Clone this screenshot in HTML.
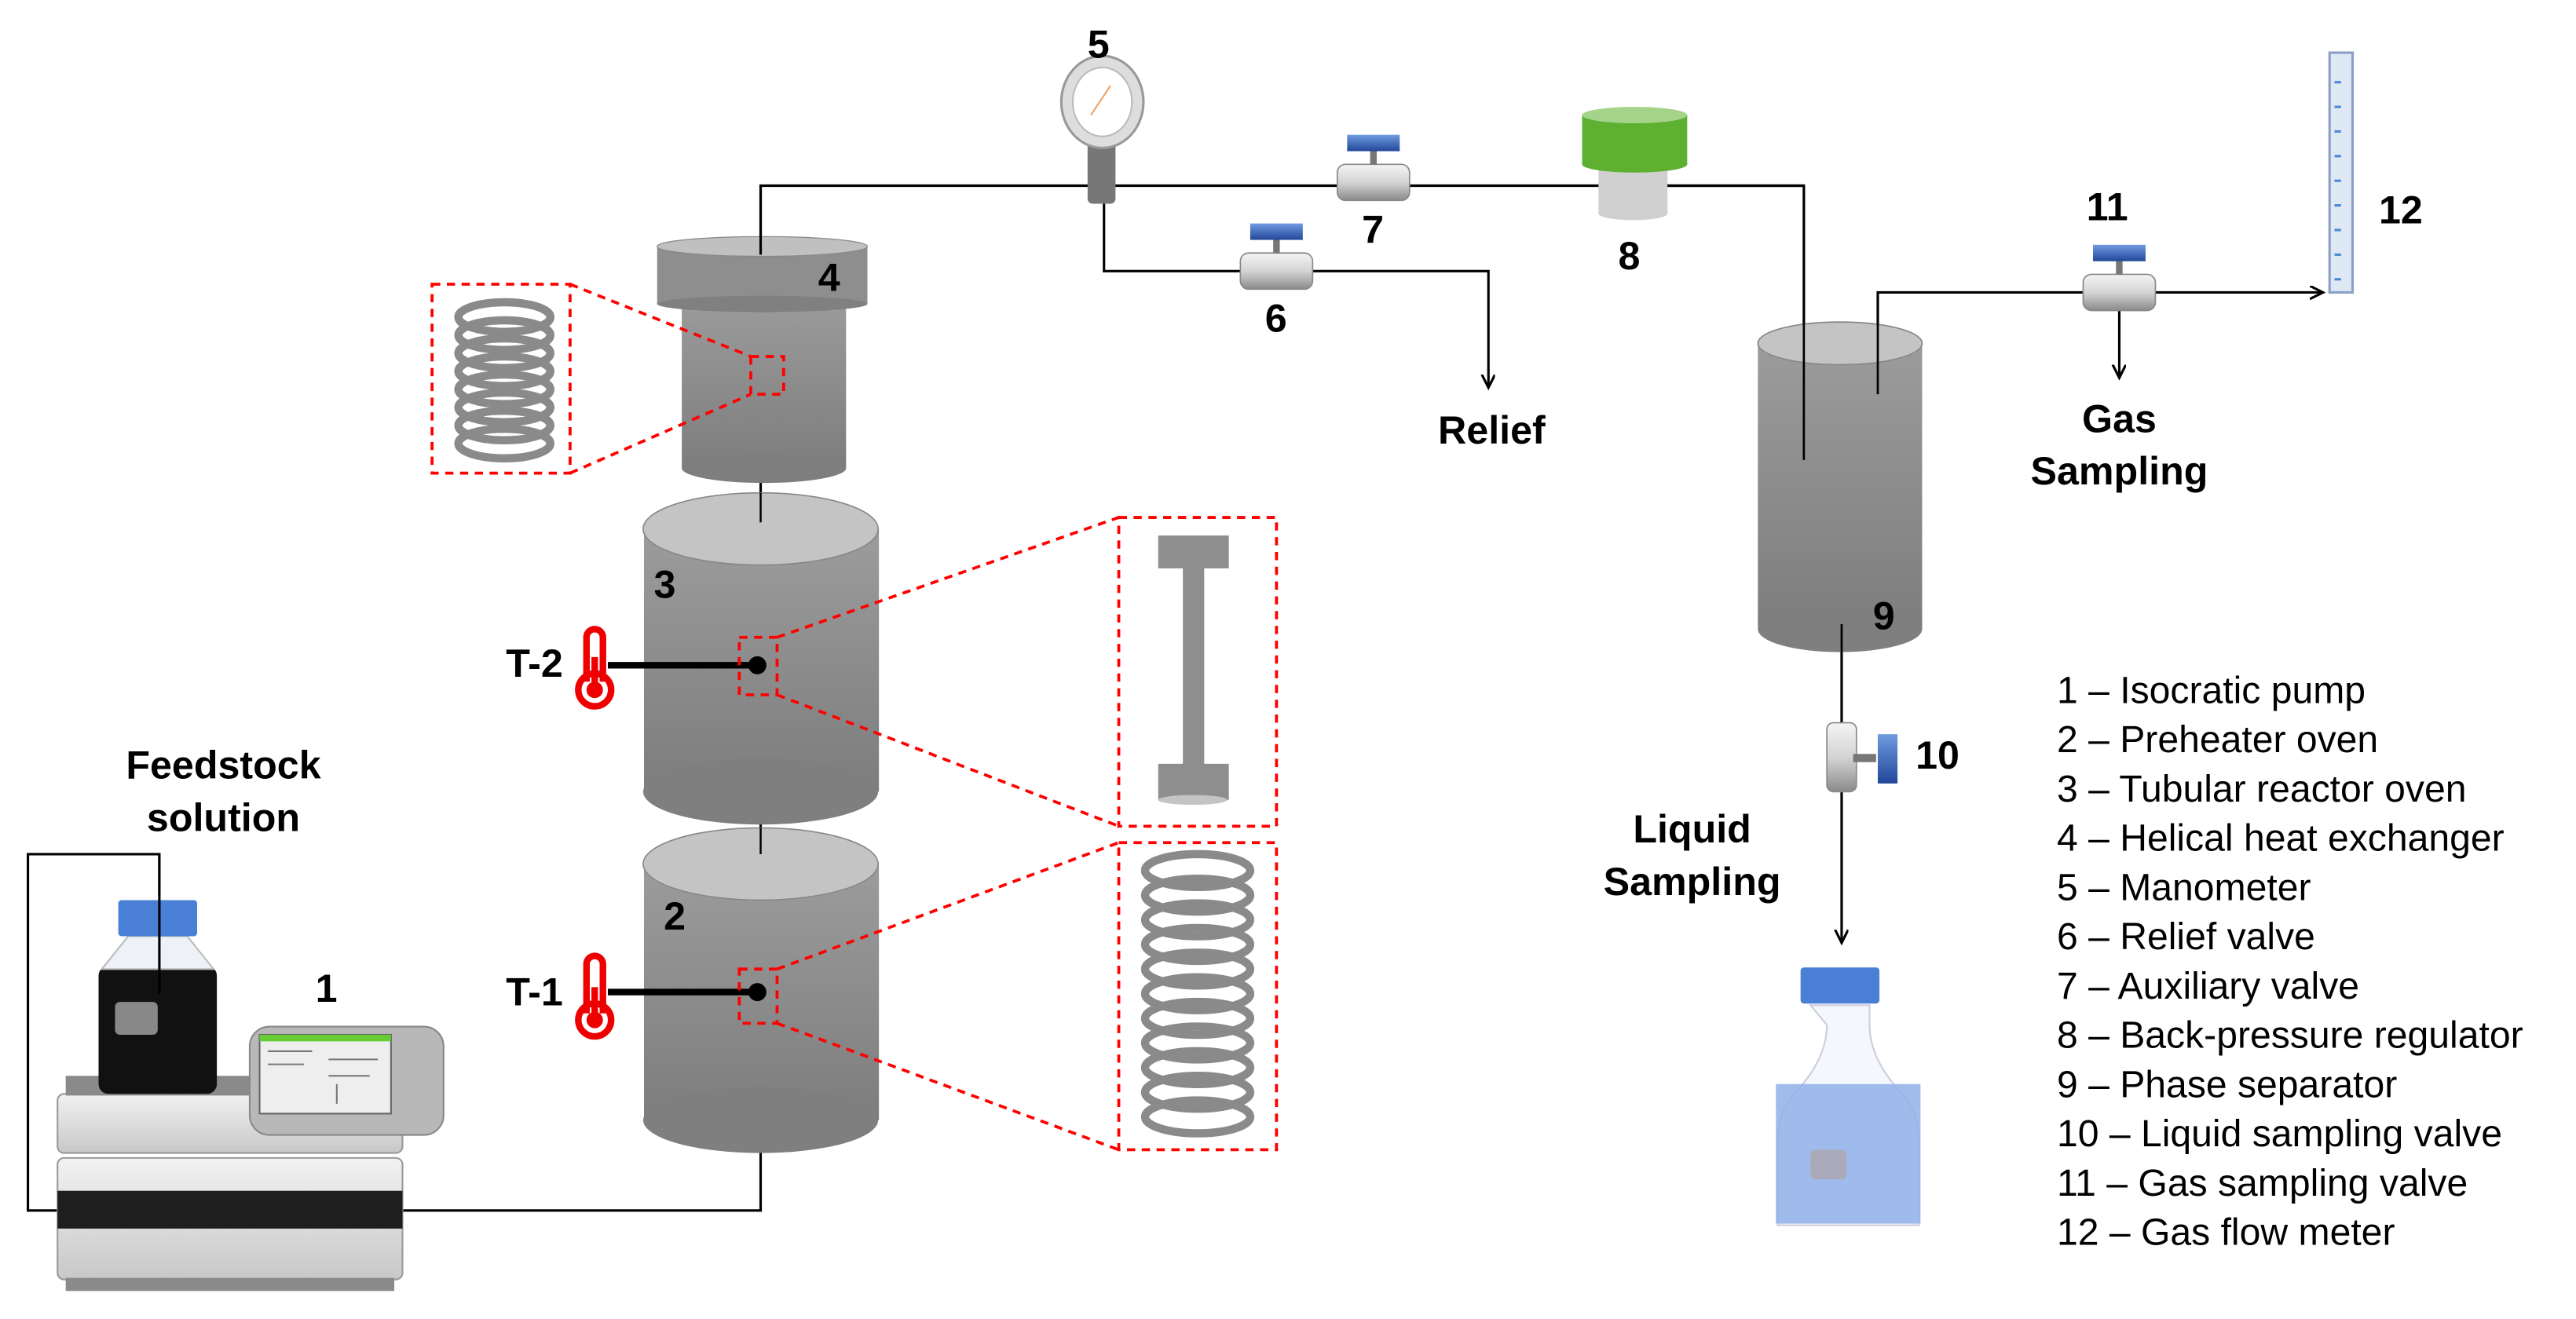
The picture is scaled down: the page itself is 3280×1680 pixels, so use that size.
<!DOCTYPE html>
<html><head><meta charset="utf-8"><style>
html,body{margin:0;padding:0;background:#fff;}
svg{display:block;}
text{font-family:"Liberation Sans",Arial,sans-serif;}
.b{font-weight:bold;font-size:24px;fill:#000;}
.lg{font-size:23px;fill:#000;}
</style></head><body>
<svg width="3280" height="1680" viewBox="0 0 1568 803" xmlns="http://www.w3.org/2000/svg">
<defs>
<linearGradient id="cyl" x1="0" y1="0" x2="0" y2="1"><stop offset="0" stop-color="#9c9c9c"/><stop offset="1" stop-color="#7d7d7d"/></linearGradient>
<linearGradient id="vb" x1="0" y1="0" x2="0" y2="1"><stop offset="0" stop-color="#f4f4f4"/><stop offset="0.5" stop-color="#d4d4d4"/><stop offset="1" stop-color="#8a8a8a"/></linearGradient>
<linearGradient id="blu" x1="0" y1="0" x2="0" y2="1"><stop offset="0" stop-color="#6f9be0"/><stop offset="1" stop-color="#22479a"/></linearGradient>
<linearGradient id="pump" x1="0" y1="0" x2="0" y2="1"><stop offset="0" stop-color="#f2f2f2"/><stop offset="1" stop-color="#c8c8c8"/></linearGradient>
<marker id="ar" markerWidth="10" markerHeight="10" refX="8" refY="4" orient="auto" markerUnits="userSpaceOnUse"><path d="M0,0 L8,4 L0,8" fill="none" stroke="#000" stroke-width="1.5"/></marker>
<g id="valve">
<rect x="-22" y="-11" width="44" height="22" rx="5" fill="url(#vb)" stroke="#888" stroke-width="0.8"/>
<rect x="-2" y="-21" width="4" height="10" fill="#777"/>
<rect x="-16" y="-29" width="32" height="10" fill="url(#blu)"/>
</g>
</defs>

<!-- pipes -->
<g stroke="#000" stroke-width="1.5" fill="none">
<polyline points="463,155 463,113 1098,113 1098,280"/>
<polyline points="672,120 672,165 906,165 906,236" marker-end="url(#ar)"/>
<polyline points="1143,240 1143,178 1414,178" marker-end="url(#ar)"/>
<line x1="1290" y1="188" x2="1290" y2="230" marker-end="url(#ar)"/>
<line x1="1121" y1="390" x2="1121" y2="574" marker-end="url(#ar)"/>
<line x1="463" y1="290" x2="463" y2="318"/>
<line x1="463" y1="500" x2="463" y2="525"/>
<polyline points="463,700 463,737 245,737"/>
<polyline points="97,545 97,520 17,520 17,737 35,737"/>
</g>

<!-- cylinder 4 -->
<rect x="415" y="180" width="100" height="105" fill="url(#cyl)"/>
<ellipse cx="465" cy="285" rx="50" ry="9" fill="#7e7e7e"/>
<rect x="400" y="150" width="128" height="35" fill="#8e8e8e"/>
<ellipse cx="464" cy="185" rx="64" ry="5" fill="#808080"/>
<ellipse cx="464" cy="150" rx="64" ry="6" fill="#c0c0c0" stroke="#888" stroke-width="0.6"/>
<line x1="463" y1="113" x2="463" y2="155" stroke="#000" stroke-width="1.5"/>
<text class="b" x="498" y="177">4</text>

<!-- cylinder 3 -->
<rect x="392" y="322" width="143" height="160" fill="url(#cyl)"/>
<ellipse cx="463" cy="482" rx="71.5" ry="20" fill="#7f7f7f"/>
<ellipse cx="463" cy="322" rx="71.5" ry="22" fill="#c4c4c4" stroke="#888" stroke-width="0.8"/>
<line x1="463" y1="300" x2="463" y2="318" stroke="#000" stroke-width="1.2"/>
<text class="b" x="398" y="364">3</text>

<!-- cylinder 2 -->
<rect x="392" y="525" width="143" height="157" fill="url(#cyl)"/>
<ellipse cx="463" cy="682" rx="71.5" ry="20" fill="#7f7f7f"/>
<ellipse cx="463" cy="526" rx="71.5" ry="22" fill="#c4c4c4" stroke="#888" stroke-width="0.8"/>
<line x1="463" y1="504" x2="463" y2="520" stroke="#000" stroke-width="1.2"/>
<text class="b" x="404" y="566">2</text>

<!-- thermometers -->
<g fill="none" stroke="#e00" stroke-width="4">
<path d="M357,415 V388 a5,5 0 0 1 10,0 V415"/><circle cx="362" cy="420" r="10"/>
<path d="M357,617 V587 a5,5 0 0 1 10,0 V617"/><circle cx="362" cy="621" r="10"/>
</g>
<circle cx="362" cy="420" r="5" fill="#e00"/><rect x="360" y="400" width="4" height="16" fill="#e00"/>
<circle cx="362" cy="621" r="5" fill="#e00"/><rect x="360" y="601" width="4" height="16" fill="#e00"/>
<line x1="370" y1="405" x2="460" y2="405" stroke="#000" stroke-width="4"/><circle cx="461" cy="405" r="5.5" fill="#000"/>
<line x1="370" y1="604" x2="460" y2="604" stroke="#000" stroke-width="4"/><circle cx="461" cy="604" r="5.5" fill="#000"/>
<text class="b" x="308" y="412">T-2</text>
<text class="b" x="308" y="612">T-1</text>

<!-- dashed zoom boxes -->
<g fill="none" stroke="#f00" stroke-width="1.8" stroke-dasharray="5,4">
<rect x="457" y="217" width="20" height="23"/>
<rect x="263" y="173" width="84" height="115"/>
<line x1="347" y1="173" x2="457" y2="217"/><line x1="347" y1="288" x2="457" y2="240"/>
<rect x="450" y="388" width="23" height="35"/>
<rect x="681" y="315" width="96" height="188"/>
<line x1="473" y1="388" x2="681" y2="315"/><line x1="473" y1="423" x2="681" y2="503"/>
<rect x="450" y="590" width="23" height="33"/>
<rect x="681" y="513" width="96" height="187"/>
<line x1="473" y1="590" x2="681" y2="513"/><line x1="473" y1="623" x2="681" y2="700"/>
</g>
<!-- coil 4 -->
<g stroke="#8a8a8a" stroke-width="5" fill="none">
<ellipse cx="307" cy="193" rx="28" ry="9"/><ellipse cx="307" cy="204" rx="28" ry="9"/><ellipse cx="307" cy="215" rx="28" ry="9"/><ellipse cx="307" cy="226" rx="28" ry="9"/><ellipse cx="307" cy="237" rx="28" ry="9"/><ellipse cx="307" cy="248" rx="28" ry="9"/><ellipse cx="307" cy="259" rx="28" ry="9"/><ellipse cx="307" cy="270" rx="28" ry="9"/>
</g>
<!-- I beam -->
<rect x="705" y="326" width="43" height="20" fill="#8e8e8e"/><rect x="720" y="340" width="13" height="130" fill="#8e8e8e"/><rect x="705" y="465" width="43" height="22" fill="#8e8e8e"/><ellipse cx="726" cy="487" rx="21" ry="3" fill="#c4c4c4"/>
<!-- coil 2 -->
<g stroke="#8a8a8a" stroke-width="5" fill="none">
<ellipse cx="729" cy="530" rx="32" ry="10"/><ellipse cx="729" cy="545" rx="32" ry="10"/><ellipse cx="729" cy="560" rx="32" ry="10"/><ellipse cx="729" cy="575" rx="32" ry="10"/><ellipse cx="729" cy="590" rx="32" ry="10"/><ellipse cx="729" cy="605" rx="32" ry="10"/><ellipse cx="729" cy="620" rx="32" ry="10"/><ellipse cx="729" cy="635" rx="32" ry="10"/><ellipse cx="729" cy="650" rx="32" ry="10"/><ellipse cx="729" cy="665" rx="32" ry="10"/><ellipse cx="729" cy="680" rx="32" ry="10"/>
</g>

<!-- manometer -->
<rect x="662" y="78" width="17" height="46" rx="3" fill="#777"/>
<ellipse cx="671" cy="62" rx="25" ry="28" fill="#ddd" stroke="#999" stroke-width="1.5"/>
<ellipse cx="671" cy="62" rx="18" ry="21" fill="#fff" stroke="#bbb"/>
<line x1="664" y1="70" x2="676" y2="52" stroke="#f0a060" stroke-width="1"/>
<text class="b" x="662" y="35">5</text>

<!-- valves -->
<use href="#valve" x="836" y="111"/>
<use href="#valve" x="777" y="165"/>
<use href="#valve" x="1290" y="178"/>
<text class="b" x="829" y="148">7</text>
<text class="b" x="770" y="202">6</text>
<text class="b" x="1270" y="134">11</text>

<!-- BPR 8 -->
<rect x="973" y="96" width="42" height="34" fill="#d0d0d0"/>
<ellipse cx="994" cy="130" rx="21" ry="4" fill="#d0d0d0"/>
<rect x="963" y="70" width="64" height="30" fill="#5eb030"/>
<ellipse cx="995" cy="100" rx="32" ry="5" fill="#5eb030"/>
<ellipse cx="995" cy="70" rx="32" ry="5" fill="#a4d48a"/>
<text class="b" x="985" y="164">8</text>
<line x1="1015" y1="113" x2="1098" y2="113" stroke="#000" stroke-width="1.5"/>

<!-- separator 9 -->
<rect x="1070" y="208" width="100" height="175" fill="url(#cyl)"/>
<ellipse cx="1120" cy="383" rx="50" ry="14" fill="#7f7f7f"/>
<ellipse cx="1120" cy="209" rx="50" ry="13" fill="#c4c4c4" stroke="#888" stroke-width="0.8"/>
<line x1="1098" y1="113" x2="1098" y2="280" stroke="#000" stroke-width="1.3"/>
<line x1="1143" y1="178" x2="1143" y2="240" stroke="#000" stroke-width="1.3"/>
<line x1="1121" y1="380" x2="1121" y2="400" stroke="#000" stroke-width="1.3"/>
<text class="b" x="1140" y="383">9</text>

<!-- flow meter 12 -->
<rect x="1418" y="32" width="14" height="146" fill="#dfe8f5" stroke="#8aa0c8" stroke-width="1.5"/>
<g stroke="#4a8ad8" stroke-width="1.5"><line x1="1421" y1="50" x2="1425" y2="50"/><line x1="1421" y1="65" x2="1425" y2="65"/><line x1="1421" y1="80" x2="1425" y2="80"/><line x1="1421" y1="95" x2="1425" y2="95"/><line x1="1421" y1="110" x2="1425" y2="110"/><line x1="1421" y1="125" x2="1425" y2="125"/><line x1="1421" y1="140" x2="1425" y2="140"/><line x1="1421" y1="155" x2="1425" y2="155"/><line x1="1421" y1="170" x2="1425" y2="170"/></g>
<text class="b" x="1448" y="136">12</text>

<!-- valve 10 -->
<rect x="1112" y="440" width="18" height="42" rx="4" fill="url(#vb)" stroke="#888" stroke-width="0.8"/>
<rect x="1128" y="459" width="14" height="5" fill="#777"/>
<rect x="1143" y="447" width="12" height="30" fill="url(#blu)"/>
<text class="b" x="1166" y="468">10</text>

<text class="b" x="908" y="270" text-anchor="middle">Relief</text>
<text class="b" x="1290" y="263" text-anchor="middle">Gas</text>
<text class="b" x="1290" y="295" text-anchor="middle">Sampling</text>
<text class="b" x="1030" y="513" text-anchor="middle">Liquid</text>
<text class="b" x="1030" y="545" text-anchor="middle">Sampling</text>
<text class="b" x="136" y="474" text-anchor="middle">Feedstock</text>
<text class="b" x="136" y="506" text-anchor="middle">solution</text>
<text class="b" x="192" y="610">1</text>

<!-- blue bottle -->
<path d="M1102,612 h36 v12 q0,20 18,40 q12,12 12,30 v52 h-86 v-52 q0,-18 12,-30 q18,-20 18,-40 z" fill="#f4f7fb" stroke="#ccd" stroke-width="1"/>
<rect x="1081" y="660" width="88" height="85" fill="#8fb0e8" opacity="0.85"/>
<rect x="1096" y="589" width="48" height="22" rx="2" fill="#4a7fd6"/>
<rect x="1102" y="700" width="22" height="18" rx="3" fill="#aab"/>

<!-- pump -->
<rect x="35" y="705" width="210" height="74" rx="4" fill="url(#pump)" stroke="#999"/>
<rect x="35" y="725" width="210" height="23" fill="#1e1e1e"/>
<rect x="40" y="778" width="200" height="8" fill="#8a8a8a"/>
<rect x="35" y="666" width="210" height="36" rx="4" fill="url(#pump)" stroke="#999"/>
<rect x="40" y="655" width="120" height="12" fill="#8a8a8a"/>
<rect x="60" y="588" width="72" height="78" rx="6" fill="#111"/>
<path d="M78,570 h36 l16,20 h-68 z" fill="#eef2f6" stroke="#bbb"/>
<rect x="72" y="548" width="48" height="22" rx="2" fill="#4a7fd6"/>
<rect x="70" y="610" width="26" height="20" rx="3" fill="#888"/>
<rect x="152" y="625" width="118" height="66" rx="12" fill="#b8b8b8" stroke="#888"/>
<rect x="158" y="630" width="80" height="48" fill="#eee" stroke="#666"/>
<rect x="158" y="630" width="80" height="4" fill="#6c3"/>
<g stroke="#777" stroke-width="1"><line x1="163" y1="640" x2="190" y2="640"/><line x1="163" y1="648" x2="185" y2="648"/><line x1="200" y1="645" x2="230" y2="645"/><line x1="200" y1="655" x2="225" y2="655"/><line x1="205" y1="672" x2="205" y2="660"/></g>
<line x1="97" y1="520" x2="97" y2="605" stroke="#000" stroke-width="1.5"/>

<!-- legend -->
<text class="lg" x="1252" y="428">1 – Isocratic pump</text>
<text class="lg" x="1252" y="458">2 – Preheater oven</text>
<text class="lg" x="1252" y="488">3 – Tubular reactor oven</text>
<text class="lg" x="1252" y="518">4 – Helical heat exchanger</text>
<text class="lg" x="1252" y="548">5 – Manometer</text>
<text class="lg" x="1252" y="578">6 – Relief valve</text>
<text class="lg" x="1252" y="608">7 – Auxiliary valve</text>
<text class="lg" x="1252" y="638">8 – Back-pressure regulator</text>
<text class="lg" x="1252" y="668">9 – Phase separator</text>
<text class="lg" x="1252" y="698">10 – Liquid sampling valve</text>
<text class="lg" x="1252" y="728">11 – Gas sampling valve</text>
<text class="lg" x="1252" y="758">12 – Gas flow meter</text>
</svg>
</body></html>
